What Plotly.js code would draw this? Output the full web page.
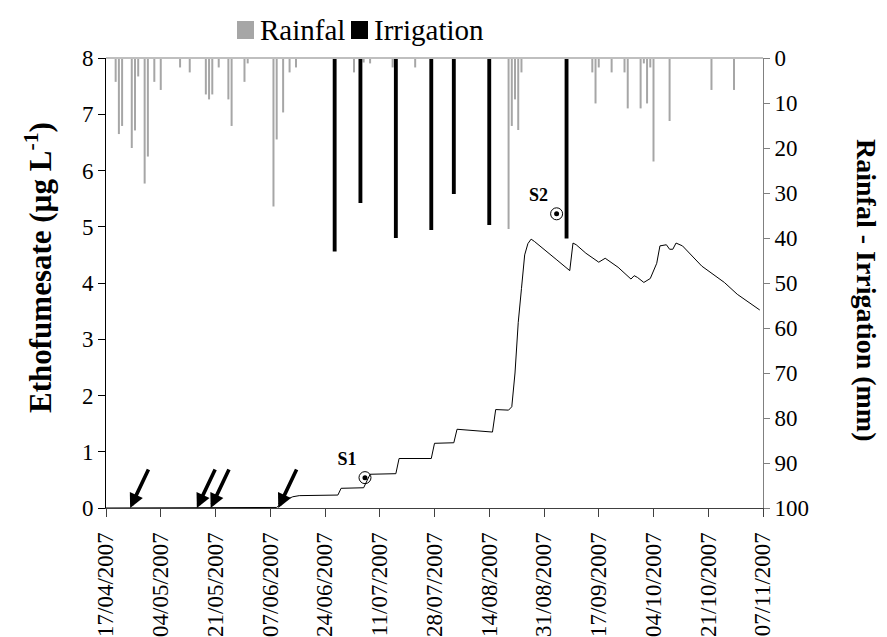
<!DOCTYPE html>
<html>
<head>
<meta charset="utf-8">
<script src="https://cdn.plot.ly/plotly-3.0.1.min.js"></script>
<style>html,body{margin:0;padding:0;background:#fff;}#chart{width:887px;height:637px;}</style>
</head>
<body>
<div id="chart"></div>
<script>
// Rainfall (mm)
const rainDates = ['2007-04-20','2007-04-21','2007-04-22','2007-04-25','2007-04-26','2007-04-27','2007-04-29','2007-04-30',
  '2007-05-02','2007-05-04','2007-05-10','2007-05-13','2007-05-18','2007-05-19','2007-05-20','2007-05-22','2007-05-25',
  '2007-05-26','2007-05-30','2007-05-31','2007-06-08','2007-06-09','2007-06-11','2007-06-13','2007-06-15',
  '2007-07-03','2007-07-06','2007-07-08','2007-07-15','2007-07-22','2007-08-14','2007-08-20','2007-08-21',
  '2007-08-22','2007-08-23','2007-08-24','2007-09-15','2007-09-16','2007-09-17','2007-09-21','2007-09-25',
  '2007-09-26','2007-09-30','2007-10-01','2007-10-02','2007-10-03','2007-10-04','2007-10-09','2007-10-22','2007-10-29'];
const rainMM = [5.3,16.9,15.1,20,16.1,4.1,27.9,21.9,
  5.3,7.1,2.1,3.2,8.1,9.2,8.1,2.1,9.2,
  15.1,5.3,1.2,33,18.1,12.1,3.2,2.1,
  3.2,1,1.2,2.1,2.1,4.1,38,15.1,
  9.2,16,3.2,3.2,10.1,2.1,3.2,3.2,
  11.2,11.2,1.2,10.1,2.1,23,14,7.1,7.1];

// Irrigation (mm)
const irrDates = ['2007-06-27','2007-07-05','2007-07-16','2007-07-27','2007-08-03','2007-08-14','2007-09-07'];
const irrMM = [43,32.2,40,38.2,30.2,37.1,40.1];

// Ethofumesate concentration (µg/L)
const concDates = ['2007-04-17','2007-06-09','2007-06-10','2007-06-12','2007-06-14','2007-06-16','2007-06-28','2007-06-29',
  '2007-07-06','2007-07-08','2007-07-16','2007-07-17','2007-07-27','2007-07-28','2007-08-03','2007-08-04',
  '2007-08-15','2007-08-16','2007-08-20','2007-08-21','2007-08-22','2007-08-23','2007-08-24','2007-08-25',
  '2007-08-26','2007-08-27','2007-08-28','2007-09-01','2007-09-04','2007-09-08','2007-09-09','2007-09-10',
  '2007-09-13','2007-09-17','2007-09-19','2007-09-23','2007-09-27','2007-09-28','2007-09-29','2007-10-01',
  '2007-10-03','2007-10-05','2007-10-06','2007-10-08','2007-10-09','2007-10-10','2007-10-11','2007-10-13',
  '2007-10-15','2007-10-19','2007-10-26','2007-10-30','2007-11-06'];
const concVal = [0,0.01,0.06,0.15,0.2,0.22,0.23,0.35,
  0.36,0.6,0.61,0.88,0.88,1.15,1.16,1.4,
  1.35,1.75,1.74,1.8,2.4,3.3,3.9,4.5,
  4.7,4.78,4.74,4.56,4.41,4.22,4.71,4.68,
  4.53,4.37,4.44,4.28,4.07,4.13,4.10,4.01,
  4.08,4.35,4.66,4.68,4.6,4.6,4.71,4.66,
  4.54,4.30,4.01,3.80,3.52];

// Samples
const sampleDates = ['2007-07-06 10:00','2007-09-03 22:00'];
const sampleVal = [0.54,5.23];
const sampleLabels = ['S1','S2'];

// Applications (arrows)
const applDates = ['2007-04-24 12:00','2007-05-15 05:00','2007-05-19 12:00','2007-06-09 12:00'];

const serif = 'Liberation Serif, Times New Roman, serif';
const DAY = 86400000;
const L = 106, R = 763, T = 58, B = 508;
const px = v => (v - L) / (R - L);
const py = v => (B - v) / (B - T);

const traces = [
  {type:'bar', x: rainDates, y: rainMM, yaxis:'y2', width: 0.62*DAY, marker:{color:'#a6a6a6', line:{width:0}}, name:'Rainfal', showlegend:false},
  {type:'bar', x: irrDates, y: irrMM, yaxis:'y2', width: 1.2*DAY, marker:{color:'#000', line:{width:0}}, name:'Irrigation', showlegend:false},
  {type:'scatter', mode:'lines', x: concDates, y: concVal, line:{color:'#000', width:1}, showlegend:false, hoverinfo:'skip'},
  {type:'scatter', mode:'markers+text', x: sampleDates, y: sampleVal, text: sampleLabels, textposition:'top left',
    textfont:{family:serif, size:18, color:'#000', weight:'bold'},
    marker:{symbol:'circle-open', size:12, color:'#000', line:{color:'#000', width:1}}, showlegend:false},
  {type:'scatter', mode:'markers', x: sampleDates, y: sampleVal,
    marker:{symbol:'circle', size:5, color:'#000'}, showlegend:false}
];

const annotations = applDates.map(d => ({x:d, y:0, xref:'x', yref:'y', text:'', showarrow:true,
  ax:19, ay:-40, arrowhead:2, arrowsize:0.8, arrowwidth:3.6, arrowcolor:'#000'}));

annotations.push({xref:'paper', yref:'paper', x:px(38), y:py(268), xanchor:'center', yanchor:'middle',
  text:'<b>Ethofumesate (µg L<sup>-1</sup>)</b>',
  textangle:-90, showarrow:false, font:{family:serif, size:31, color:'#000'}});
annotations.push({xref:'paper', yref:'paper', x:px(867), y:py(290), xanchor:'center', yanchor:'middle',
  text:'<b>Rainfal - Irrigation (mm)</b>',
  textangle:90, showarrow:false, font:{family:serif, size:28, color:'#000'}});
annotations.push({xref:'paper', yref:'paper', x:px(258), y:py(30), xanchor:'left', yanchor:'middle', text:'Rainfal',
  showarrow:false, font:{family:serif, size:29, color:'#000'}});
annotations.push({xref:'paper', yref:'paper', x:px(372), y:py(30), xanchor:'left', yanchor:'middle', text:'Irrigation',
  showarrow:false, font:{family:serif, size:29, color:'#000'}});

const shapes = [
  {type:'line', xref:'paper', yref:'paper', x0:0, x1:1, y0:1, y1:1, line:{color:'#bfbfbf', width:2}},
  {type:'rect', xref:'paper', yref:'paper', x0:px(237), x1:px(254), y0:py(39), y1:py(21), fillcolor:'#a6a6a6', line:{width:0}},
  {type:'rect', xref:'paper', yref:'paper', x0:px(351), x1:px(368), y0:py(39), y1:py(21), fillcolor:'#000', line:{width:0}}
];

const layout = {
  width: 887, height: 637,
  margin:{l:L, r:887-R, t:T, b:637-B},
  paper_bgcolor:'#fff', plot_bgcolor:'#fff',
  barmode:'overlay',
  font:{family:serif, color:'#000'},
  xaxis:{type:'date', range:['2007-04-17','2007-11-07'], tick0:'2007-04-17', dtick:17*DAY, tickformat:'%d/%m/%Y',
    tickangle:-90, ticks:'outside', ticklen:8, tickcolor:'#404040', showline:true, linecolor:'#404040', linewidth:1,
    showgrid:false, zeroline:false, ticklabelstandoff:6, tickfont:{family:serif, size:23, color:'#000'}},
  yaxis:{range:[0,8], dtick:1, ticks:'outside', ticklen:7, tickcolor:'#000', showline:true, linecolor:'#000',
    showgrid:false, zeroline:false, tickfont:{family:serif, size:23, color:'#000'}},
  yaxis2:{overlaying:'y', side:'right', range:[100,0], dtick:10, ticks:'outside', ticklen:6, tickcolor:'#808080',
    showline:true, linecolor:'#808080', showgrid:false, zeroline:false, tickfont:{family:serif, size:23, color:'#000'}},
  annotations: annotations,
  shapes: shapes
};

Plotly.newPlot('chart', traces, layout, {displayModeBar:false, staticPlot:true});
</script>
</body>
</html>
